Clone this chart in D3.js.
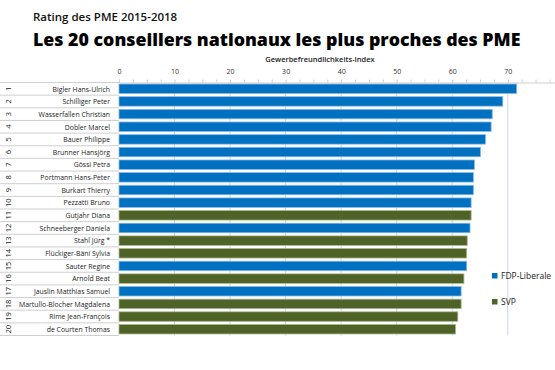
<!DOCTYPE html>
<html>
<head>
<meta charset="utf-8">
<script src="https://cdn.jsdelivr.net/npm/d3@7"></script>
<style>
  body { margin: 0; background: #fff; }
  svg { display: block; font-family: "Open Sans", "Noto Sans", sans-serif; }
</style>
</head>
<body>
<div id="chart"></div>
<script>
// data
const names = [
  "Bigler Hans-Ulrich", "Schilliger Peter", "Wasserfallen Christian", "Dobler Marcel",
  "Bauer Philippe", "Brunner Hansjörg", "Gössi Petra", "Portmann Hans-Peter",
  "Burkart Thierry", "Pezzatti Bruno", "Gutjahr Diana", "Schneeberger Daniela",
  "Stahl Jürg *", "Flückiger-Bäni Sylvia", "Sauter Regine", "Arnold Beat",
  "Jauslin Matthias Samuel", "Martullo-Blocher Magdalena", "Rime Jean-François", "de Courten Thomas"
];
const values = [71.6, 69.1, 67.2, 67.0, 66.0, 65.1, 64.0, 63.8, 63.8, 63.4,
                63.4, 63.2, 62.7, 62.6, 62.6, 62.1, 61.6, 61.6, 61.0, 60.6];
const parties = ["FDP", "FDP", "FDP", "FDP", "FDP", "FDP", "FDP", "FDP", "FDP", "FDP",
                 "SVP", "FDP", "SVP", "SVP", "FDP", "SVP", "FDP", "SVP", "SVP", "SVP"];
const partyKeys = ["FDP", "SVP"];
const partyLabels = ["FDP-Liberale", "SVP"];
const majorTicks = [0, 10, 20, 30, 40, 50, 60, 70];

const W = 555, H = 370;
const plotTop = 82.5, rowH = 12.65;

const svg = d3.select("#chart").append("svg")
    .attr("width", W).attr("height", H);

const x = d3.scaleLinear().domain([0, 78.5]).range([119, 555]);
const y = d3.scaleBand()
    .domain(d3.range(names.length))
    .range([plotTop, plotTop + rowH * names.length])
    .paddingInner(0.25).paddingOuter(0.12);
const color = d3.scaleOrdinal().domain(partyKeys).range(["#0070c0", "#4f6228"]);
const stroke = d3.scaleOrdinal().domain(partyKeys).range(["#8db8e6", "#a9b78c"]);

// titles
svg.append("text").attr("x", 33).attr("y", 21)
    .attr("font-size", 11.5).attr("font-weight", 600).attr("fill", "#111")
    .text("Rating des PME 2015-2018");
const title = svg.append("text").attr("x", 33).attr("y", 46)
    .attr("font-size", 20).attr("font-weight", 800).attr("fill", "#000")
    .text("Les 20 conseillers nationaux les plus proches des PME");
// shrink the font until the title spans about the same width as in the original
const tw = title.node().getComputedTextLength();
if (tw > 488) title.attr("font-size", 20 * 488 / tw);

svg.append("text").attr("x", 320).attr("y", 62)
    .attr("text-anchor", "middle")
    .attr("font-size", 7.5).attr("font-weight", 600).attr("fill", "#222")
    .text("Gewerbefreundlichkeits-Index");

// gridlines
const yEnd = plotTop + rowH * names.length;
svg.append("g").selectAll("line").data(majorTicks.slice(1)).join("line")
    .attr("x1", d => x(d)).attr("x2", d => x(d))
    .attr("y1", plotTop).attr("y2", yEnd)
    .attr("stroke", "#c9d6ec").attr("stroke-width", 1);

// row separators in the label area
svg.append("g").selectAll("line").data(d3.range(names.length + 1)).join("line")
    .attr("x1", 0).attr("x2", x(0))
    .attr("y1", i => plotTop + i * rowH).attr("y2", i => plotTop + i * rowH)
    .attr("stroke", "#cfcfcf").attr("stroke-width", 1);

// top axis
const axis = d3.axisTop(x)
    .tickValues(d3.range(0, 78, 2.5))
    .tickSize(3)
    .tickFormat(d => majorTicks.includes(d) ? d : "");
const gAxis = svg.append("g").attr("transform", `translate(0,${plotTop})`).call(axis);
gAxis.select(".domain").attr("stroke", "#cfcfcf");
gAxis.selectAll(".tick line").attr("stroke", "#cfcfcf");
gAxis.selectAll(".tick text").attr("font-size", 7).attr("fill", "#333")
    .attr("font-family", "'Open Sans', sans-serif").attr("dy", "-3");
svg.append("line").attr("x1", 0).attr("x2", x(0))
    .attr("y1", plotTop).attr("y2", plotTop).attr("stroke", "#cfcfcf");

// bars
svg.append("g").selectAll("rect").data(values).join("rect")
    .attr("x", x(0))
    .attr("y", (d, i) => y(i))
    .attr("width", d => x(d) - x(0))
    .attr("height", y.bandwidth())
    .attr("fill", (d, i) => color(parties[i]))
    .attr("stroke", (d, i) => stroke(parties[i]))
    .attr("stroke-width", 0.8);

// names (squeezed horizontally, the original uses a narrow face)
svg.append("g").attr("transform", "translate(110,0) scale(0.86,1)")
  .selectAll("text").data(names).join("text")
    .attr("x", 0)
    .attr("y", (d, i) => y(i) + y.bandwidth() / 2)
    .attr("dy", "0.35em")
    .attr("text-anchor", "end")
    .attr("font-size", 8).attr("fill", "#222")
    .text(d => d);

// rank numbers, rotated
svg.append("g").selectAll("text").data(names).join("text")
    .attr("transform", (d, i) => `translate(8,${y(i) + y.bandwidth() / 2}) rotate(-90)`)
    .attr("text-anchor", "middle")
    .attr("dy", "0.35em")
    .attr("font-size", 7.5).attr("fill", "#222")
    .text((d, i) => i + 1);

// legend
const leg = svg.append("g").selectAll("g").data(partyKeys).join("g")
    .attr("transform", (d, i) => `translate(492,${276 + i * 26})`);
leg.append("rect").attr("x", 0).attr("y", -3).attr("width", 5.5).attr("height", 5.5)
    .attr("fill", d => color(d));
leg.append("text").attr("x", 9).attr("y", 0).attr("dy", "0.35em")
    .attr("font-size", 8.5).attr("fill", "#222")
    .text((d, i) => partyLabels[i]);
</script>
</body>
</html>
